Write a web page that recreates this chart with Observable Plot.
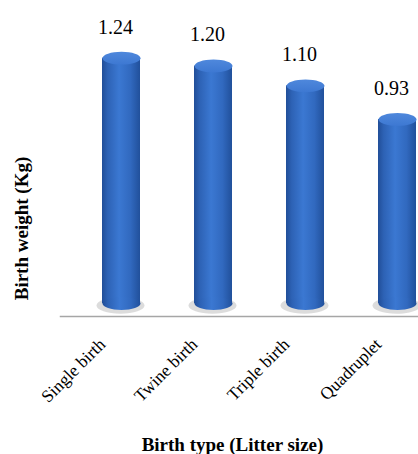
<!DOCTYPE html>
<html>
<head>
<meta charset="utf-8">
<script src="https://cdn.jsdelivr.net/npm/d3@7"></script>
<script src="https://cdn.jsdelivr.net/npm/@observablehq/plot@0.6"></script>
<style>
  html, body { margin: 0; padding: 0; background: #fff; overflow: hidden; }
  svg { display: block; }
  #chart svg, #chart svg text { font-family: "Liberation Serif", "Times New Roman", serif !important; }
</style>
</head>
<body>
<div id="chart"></div>
<script>
const categories = ["Single birth", "Twine birth", "Triple birth", "Quadruplet"];
const values = [1.24, 1.20, 1.10, 0.93];
const yTitle = "Birth weight (Kg)";
const xTitle = "Birth type (Litter size)";

const data = categories.map((c, i) => ({type: c, value: values[i]}));

const ellipse = {
  draw(ctx, size) {
    const rx = Math.sqrt(size / Math.PI), ry = rx * 0.34;
    const kx = rx * 0.5523, ky = ry * 0.5523;
    ctx.moveTo(-rx, 0);
    ctx.bezierCurveTo(-rx, -ky, -kx, -ry, 0, -ry);
    ctx.bezierCurveTo(kx, -ry, rx, -ky, rx, 0);
    ctx.bezierCurveTo(rx, ky, kx, ry, 0, ry);
    ctx.bezierCurveTo(-kx, ry, -rx, ky, -rx, 0);
    ctx.closePath();
  }
};

const chart = Plot.plot({
  width: 418,
  height: 454,
  marginLeft: 60,
  marginRight: 0,
  marginTop: 140,
  marginBottom: 138,
  style: {background: "#fff", overflow: "hidden"},
  x: {domain: categories, range: [75, 443], paddingInner: 0.587, paddingOuter: 0.2935, label: null, axis: null},
  y: {domain: [0, 1.4], range: [303, 26], axis: null},
  marks: [
    Plot.frame({anchor: "bottom", stroke: "#a6a6a6", strokeWidth: 1.5}),
    Plot.dot(data, {x: "type", y: () => 0, r: 24, symbol: ellipse, fill: "#8a8a8a", fillOpacity: 0.3, dx: -1, dy: 2}),
    Plot.barY(data, {x: "type", y: "value", fill: "url(#cylBody)"}),
    Plot.dot(data, {x: "type", y: () => 0, r: 19, symbol: ellipse, fill: "url(#cylBody)", stroke: null}),
    Plot.dot(data, {x: "type", y: "value", r: 19, symbol: ellipse, fill: "url(#cylTop)", stroke: null}),
    Plot.text(data, {x: "type", y: "value", text: d => d.value.toFixed(2), dy: -31, dx: -6, fontSize: 20, fill: "#000"}),
    Plot.axisX({tickSize: 0, tickPadding: 25, tickRotate: -45, fontSize: 17.5, fill: "#000", label: null, dx: -19}),
    Plot.text([yTitle], {frameAnchor: "left", textAnchor: "middle", text: d => d, rotate: -90, dx: -39, fontSize: 19, fontWeight: "bold", fill: "#000"}),
    Plot.text([xTitle], {frameAnchor: "bottom", lineAnchor: "middle", text: d => d, dy: 128, dx: -7, fontSize: 19, fontWeight: "bold", fill: "#000"})
  ]
});

const ns = "http://www.w3.org/2000/svg";
const defs = document.createElementNS(ns, "defs");
defs.innerHTML = `
  <linearGradient id="cylBody" x1="0" x2="1" y1="0" y2="0">
    <stop offset="0" stop-color="#214e98"/>
    <stop offset="0.15" stop-color="#2d62b5"/>
    <stop offset="0.45" stop-color="#3b78d2"/>
    <stop offset="0.75" stop-color="#3169bf"/>
    <stop offset="1" stop-color="#21509b"/>
  </linearGradient>
  <linearGradient id="cylTop" x1="0" x2="0" y1="0" y2="1">
    <stop offset="0" stop-color="#4f88dc"/>
    <stop offset="1" stop-color="#3d78d2"/>
  </linearGradient>`;
chart.insertBefore(defs, chart.firstChild);
document.getElementById("chart").appendChild(chart);
</script>
</body>
</html>
